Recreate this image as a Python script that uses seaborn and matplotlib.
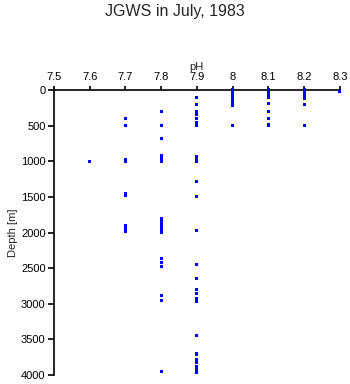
import matplotlib
matplotlib.use("Agg")
import matplotlib.pyplot as plt
import matplotlib.ticker as mticker
import seaborn as sns
import pandas as pd

ph_76 = [1000]
ph_77 = [400, 500, 975, 1000, 1450, 1480, 1900, 1950, 1990]
ph_78 = [300, 500, 680, 915, 950, 980, 1000, 1800, 1825, 1850, 1875, 1900,
         1925, 1950, 1975, 2000, 2370, 2420, 2480, 2890, 2960, 3945]
ph_79 = [100, 200, 300, 320, 340, 400, 450, 480, 500, 935, 970, 1000, 1280,
         1490, 1970, 2450, 2640, 2800, 2855, 2925, 2950, 2970, 3445, 3705,
         3790, 3830, 3885, 3920, 3965]
ph_80 = [0, 10, 20, 30, 50, 75, 100, 125, 150, 175, 200, 220, 500]
ph_81 = [0, 10, 25, 50, 75, 100, 190, 300, 400, 480, 500]
ph_82 = [0, 10, 25, 50, 75, 100, 120, 200, 500]
ph_83 = [20]

ph_groups = {7.6: ph_76, 7.7: ph_77, 7.8: ph_78, 7.9: ph_79,
             8.0: ph_80, 8.1: ph_81, 8.2: ph_82, 8.3: ph_83}

rows = [(ph, d) for ph, ds in ph_groups.items() for d in ds]
df = pd.DataFrame(rows, columns=["pH", "Depth"])

x_ticks = [7.5, 7.6, 7.7, 7.8, 7.9, 8.0, 8.1, 8.2, 8.3]
y_ticks = [0, 500, 1000, 1500, 2000, 2500, 3000, 3500, 4000]

sns.set_style("ticks")
plt.rcParams['font.family'] = ['Liberation Sans', 'DejaVu Sans']

fig = plt.figure(figsize=(3.5, 3.84), dpi=100)
ax = fig.add_axes([0.154, 0.0234, 0.817, 0.7422])

sns.scatterplot(data=df, x="pH", y="Depth", ax=ax, marker="s", s=5,
                color="#0000ff", edgecolor="none", linewidth=0)
for c in ax.collections:
    c.set_clip_on(False)
    c.set_zorder(5)

ax.set_xlim(7.5, 8.3)
ax.set_ylim(4000, 0)
ax.set_xticks(x_ticks)
ax.set_yticks(y_ticks)
ax.xaxis.set_major_formatter(mticker.FormatStrFormatter('%g'))
ax.xaxis.tick_top()
ax.xaxis.set_label_position('top')
ax.spines['bottom'].set_visible(False)
ax.spines['right'].set_visible(False)
for s in ['top', 'left']:
    ax.spines[s].set_linewidth(1.2)
    ax.spines[s].set_color('black')
ax.tick_params(axis='both', labelsize=8, length=4, width=1.2, colors='black', pad=2)
ax.tick_params(axis='x', length=3, pad=3)
ax.set_xlabel("pH", fontsize=8, labelpad=1)
ax.set_ylabel("Depth [m]", fontsize=8, labelpad=2)
fig.suptitle("JGWS in July, 1983", fontsize=11.5, y=0.99)

fig.savefig("out.png", dpi=100, facecolor="white")
